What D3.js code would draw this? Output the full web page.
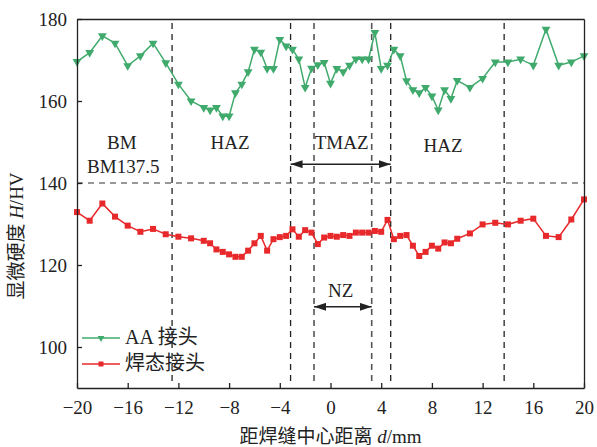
<!DOCTYPE html>
<html lang="zh"><head><meta charset="utf-8">
<script src="https://d3js.org/d3.v7.min.js"></script>
<style>
  body { margin: 0; background: #fff; }
  svg { font-family: "Liberation Serif", "Noto Sans CJK SC", serif; }
  .axis text { font-size: 19px; fill: #222; font-family: "Liberation Serif", serif; }
  .axis path, .axis line { stroke: #222; stroke-width: 1.3; }
</style>
</head><body>
<div id="chart"></div>
<script>
// distance from weld centre, mm
var distance = [-20, -19, -18, -17, -16, -15, -14, -13, -12, -11,
  -10, -9.5, -9, -8.5, -8, -7.5, -7, -6.5, -6, -5.5, -5, -4.5, -4, -3.5, -3, -2.5, -2, -1.5, -1, -0.5,
  0, 0.5, 1, 1.5, 2, 2.5, 3, 3.5, 4, 4.5, 5, 5.5, 6, 6.5, 7, 7.5, 8, 8.5, 9, 9.5, 10,
  11, 12, 13, 14, 15, 16, 17, 18, 19, 20];

// AA 接头
var aaHardness = [169.6, 171.8, 175.9, 174.1, 168.6, 171.0, 174.1, 169.3, 164.1, 160.0,
  158.4, 157.8, 158.4, 156.3, 156.3, 162.0, 164.1, 167.1, 172.6, 171.9, 167.9, 167.9, 175.0, 173.4, 172.6, 170.2, 163.3, 168.0, 168.8, 169.4,
  164.3, 167.9, 167.1, 168.7, 170.2, 170.2, 170.2, 176.7, 167.9, 168.7, 172.6, 171.0, 164.9, 162.7, 162.0, 163.3, 161.2, 157.8, 162.7, 160.6, 165.0,
  163.3, 165.5, 169.5, 169.5, 170.2, 168.7, 177.5, 168.7, 169.5, 171.0];

// 焊态接头
var weldedHardness = [132.9, 130.8, 135.0, 131.8, 129.6, 128.1, 128.8, 127.5, 126.9, 126.5,
  125.9, 125.3, 123.8, 123.2, 122.6, 122.0, 122.0, 123.5, 125.3, 127.1, 123.5, 126.3, 126.8, 127.1, 128.7, 126.9, 128.5, 127.9, 125.1, 126.7,
  127.1, 126.9, 127.3, 127.1, 127.9, 127.9, 127.9, 128.3, 128.1, 131.0, 126.3, 127.1, 127.3, 124.7, 122.2, 123.2, 124.7, 124.0, 125.5, 125.3, 126.4,
  127.7, 129.9, 130.3, 129.9, 130.8, 131.3, 127.1, 126.8, 131.1, 136.0];

var seriesNames = ["AA 接头", "焊态接头"];
var xTicks = [-20, -16, -12, -8, -4, 0, 4, 8, 12, 16, 20];
var yTicks = [100, 120, 140, 160, 180];
var zoneBounds = [-12.5, -3.15, -1.3, 3.25, 4.75, 13.7];
var bmLevel = 140;
var zoneLabels = ["BM", "BM137.5", "HAZ", "TMAZ", "HAZ", "NZ"];

var W = 597, H = 447;
var margin = { top: 19, right: 13, bottom: 59, left: 77 };
var width = W - margin.left - margin.right,
    height = H - margin.top - margin.bottom;

var svg = d3.select("#chart").append("svg")
  .attr("width", W).attr("height", H);

var defs = svg.append("defs");
defs.append("marker").attr("id", "ah")
  .attr("viewBox", "0 0 12 8").attr("refX", 12).attr("refY", 4)
  .attr("markerWidth", 12).attr("markerHeight", 8)
  .attr("markerUnits", "userSpaceOnUse").attr("orient", "auto-start-reverse")
  .append("path").attr("d", "M0,0 L12,4 L0,8 Z").attr("fill", "#222");

var g = svg.append("g")
  .attr("transform", "translate(" + margin.left + "," + margin.top + ")");

var x = d3.scaleLinear().domain([-20, 20]).range([0, width]);
var y = d3.scaleLinear().domain([90, 180]).range([height, 0]);

// dashed guide lines
g.append("line")
  .attr("x1", 0).attr("x2", width)
  .attr("y1", y(bmLevel)).attr("y2", y(bmLevel))
  .attr("stroke", "#333").attr("stroke-width", 1.2).attr("stroke-dasharray", "6,5");

g.selectAll(".zone").data(zoneBounds).join("line")
  .attr("class", "zone")
  .attr("x1", d => x(d)).attr("x2", d => x(d))
  .attr("y1", y(179)).attr("y2", y(90.5))
  .attr("stroke", (d, i) => (i == 2 || i == 3) ? "#555" : "#222")
  .attr("stroke-width", (d, i) => (i == 2 || i == 3) ? 1.6 : 1.3)
  .attr("stroke-dasharray", "6,5");

// series
var colors = ["#3faa6c", "#e8292b"];
var allSeries = [aaHardness, weldedHardness];
var line = d3.line().x((d, i) => x(distance[i])).y(d => y(d));

allSeries.forEach(function (vals, k) {
  g.append("path").datum(vals)
    .attr("fill", "none").attr("stroke", colors[k]).attr("stroke-width", 1.5)
    .attr("d", line);
});

var tri = d3.symbol().type(d3.symbolTriangle).size(34);
g.selectAll(".tri").data(aaHardness).join("path")
  .attr("class", "tri")
  .attr("d", tri)
  .attr("transform", (d, i) => "translate(" + x(distance[i]) + "," + y(d) + ") rotate(180)")
  .attr("fill", colors[0]);

g.selectAll(".sq").data(weldedHardness).join("rect")
  .attr("class", "sq")
  .attr("x", (d, i) => x(distance[i]) - 3).attr("y", d => y(d) - 3)
  .attr("width", 6).attr("height", 6)
  .attr("fill", colors[1]);

// axes (ticks inside, boxed)
g.append("g").attr("class", "axis")
  .attr("transform", "translate(0," + height + ")")
  .call(d3.axisBottom(x).tickValues(xTicks).tickSizeInner(-5).tickSizeOuter(0).tickPadding(13));

g.append("g").attr("class", "axis")
  .call(d3.axisLeft(y).tickValues(yTicks).tickSizeInner(-5).tickSizeOuter(0).tickPadding(10));

g.append("g").attr("class", "axis")
  .attr("transform", "translate(" + width + ",0)")
  .call(d3.axisRight(y).tickValues([]).tickSizeOuter(0));

g.append("g").attr("class", "axis")
  .call(d3.axisTop(x).tickValues([]).tickSizeOuter(0));

// zone annotations
var ann = g.append("g").attr("font-size", 19).attr("fill", "#222")
  .attr("text-anchor", "middle").attr("font-family", "Liberation Serif, serif");
ann.append("text").attr("x", x(-16.47)).attr("y", y(148.2)).text(zoneLabels[0]);
ann.append("text").attr("x", x(-16.35)).attr("y", y(142.4)).text(zoneLabels[1]);
ann.append("text").attr("x", x(-7.93)).attr("y", y(148.2)).text(zoneLabels[2]);
ann.append("text").attr("x", x(0.88)).attr("y", y(148.3)).text(zoneLabels[3]);
ann.append("text").attr("x", x(8.88)).attr("y", y(147.6)).text(zoneLabels[4]);
ann.append("text").attr("x", x(0.8)).attr("y", y(112.3)).text(zoneLabels[5]);

// double arrows
g.append("line")
  .attr("x1", x(zoneBounds[1])).attr("x2", x(zoneBounds[4]))
  .attr("y1", y(144.6)).attr("y2", y(144.6))
  .attr("stroke", "#222").attr("stroke-width", 1.5)
  .attr("marker-start", "url(#ah)").attr("marker-end", "url(#ah)");
g.append("line")
  .attr("x1", x(zoneBounds[2])).attr("x2", x(zoneBounds[3]))
  .attr("y1", y(109.8)).attr("y2", y(109.8))
  .attr("stroke", "#222").attr("stroke-width", 1.5)
  .attr("marker-start", "url(#ah)").attr("marker-end", "url(#ah)");

// legend
var leg = g.append("g").attr("transform", "translate(5," + (y(102.2)) + ")");
seriesNames.forEach(function (name, k) {
  var row = leg.append("g").attr("transform", "translate(0," + (k * 26) + ")");
  row.append("line").attr("x1", 0).attr("x2", 38).attr("y1", 0).attr("y2", 0)
    .attr("stroke", colors[k]).attr("stroke-width", 1.5);
  if (k == 0) {
    row.append("path").attr("d", d3.symbol().type(d3.symbolTriangle).size(20))
      .attr("transform", "translate(19,0) rotate(180)").attr("fill", colors[k]);
  } else {
    row.append("rect").attr("x", 16.5).attr("y", -2.5).attr("width", 5).attr("height", 5)
      .attr("fill", colors[k]);
  }
  row.append("text").attr("x", 43).attr("y", 6.5).attr("font-size", 20).attr("fill", "#222")
    .text(name);
});

// axis titles
svg.append("text")
  .attr("x", margin.left + width / 2).attr("y", 443)
  .attr("text-anchor", "middle").attr("font-size", 19).attr("fill", "#222")
  .call(t => {
    t.append("tspan").text("距焊缝中心距离 ");
    t.append("tspan").attr("font-style", "italic").text("d");
    t.append("tspan").text("/mm");
  });

svg.append("text")
  .attr("transform", "translate(23,236) rotate(-90)")
  .attr("text-anchor", "middle").attr("font-size", 19).attr("fill", "#222")
  .call(t => {
    t.append("tspan").text("显微硬度 ");
    t.append("tspan").attr("font-style", "italic").text("H");
    t.append("tspan").text("/HV");
  });
</script>
</body></html>
